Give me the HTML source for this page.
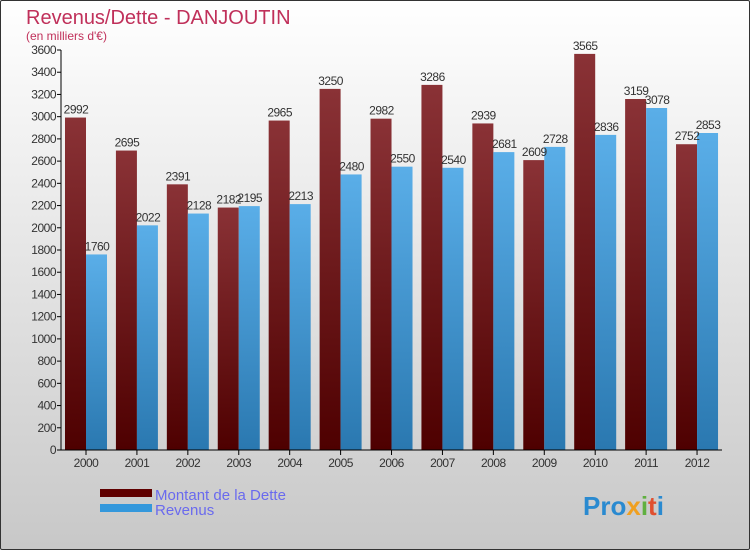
<!DOCTYPE html>
<html><head><meta charset="utf-8"><style>
body{margin:0;width:750px;height:550px;overflow:hidden;font-family:"Liberation Sans",sans-serif}
#c{position:absolute;left:0;top:0;width:748px;height:548px;border:1px solid #333;border-radius:2px;background:linear-gradient(#fff,#c8c8c8)}
</style></head><body>
<div id="c"></div>
<svg id="s" width="750" height="550" style="position:absolute;left:0;top:0">
<defs>
<linearGradient id="gd" x1="0" y1="0" x2="0" y2="1"><stop offset="0" stop-color="#8a3236"/><stop offset="1" stop-color="#4e0000"/></linearGradient>
<linearGradient id="gr" x1="0" y1="0" x2="0" y2="1"><stop offset="0" stop-color="#5aaee8"/><stop offset="1" stop-color="#2a78b0"/></linearGradient>
</defs>
<text x="26" y="24" font-size="20" fill="#c0305a">Revenus/Dette - DANJOUTIN</text>
<text x="26" y="40" font-size="12" fill="#c0305a">(en milliers d'€)</text>
<g id="g"></g>
<rect x="100" y="489" width="52" height="8" fill="#600000"/>
<rect x="100" y="504" width="52" height="8" fill="#3498dc"/>
<text x="155" y="500" font-size="15" fill="#6a6aee">Montant de la Dette</text>
<text x="155" y="515" font-size="15" fill="#6a6aee">Revenus</text>
<text x="583" y="515" font-size="26" font-weight="bold" fill="#2a8ad0">Pro<tspan fill="#f0a020">x</tspan><tspan fill="#60b040">i</tspan><tspan fill="#e05030">t</tspan><tspan fill="#2a8ad0">i</tspan></text>
</svg>
<script>
const years=["2000","2001","2002","2003","2004","2005","2006","2007","2008","2009","2010","2011","2012"];
const dette=[2992,2695,2391,2182,2965,3250,2982,3286,2939,2609,3565,3159,2752];
const revenus=[1760,2022,2128,2195,2213,2480,2550,2540,2681,2728,2836,3078,2853];
const ticks=[0,200,400,600,800,1000,1200,1400,1600,1800,2000,2200,2400,2600,2800,3000,3200,3400,3600];
const NS="http://www.w3.org/2000/svg",g=document.getElementById('g');
const y=v=>450-v*400/3600, xc=i=>86+i*50.92;
function mk(t,a,txt){const e=document.createElementNS(NS,t);for(const k in a)e.setAttribute(k,a[k]);if(txt!=null)e.textContent=txt;g.appendChild(e);return e;}
ticks.forEach(t=>{
 const l=mk('line',{x1:57,x2:61,y1:y(t),y2:y(t),stroke:'#000'});
 
 
 const tx=mk('text',{x:56,y:y(t)+4,'font-size':12,'text-anchor':'end',fill:'#333','letter-spacing':'-0.5'},t);
 
 
});
years.forEach((yr,i)=>{
 const c=xc(i);
 const b1=mk('rect',{x:c-21,y:y(dette[i]),width:21,height:450-y(dette[i]),fill:'url(#gd)'});
 
 
 const b2=mk('rect',{x:c,y:y(revenus[i]),width:21,height:450-y(revenus[i]),fill:'url(#gr)'});
 
 
 const t1=mk('text',{x:c-10,y:y(dette[i])-4,'font-size':12,'text-anchor':'middle',fill:'#333','letter-spacing':'-0.5'},dette[i]);
 
 
 const t2=mk('text',{x:c+11,y:y(revenus[i])-4,'font-size':12,'text-anchor':'middle',fill:'#333','letter-spacing':'-0.5'},revenus[i]);
 
 
 const tk=mk('line',{x1:c,x2:c,y1:450,y2:455,stroke:'#000'});
 
 
 const xl=mk('text',{x:c,y:467,'font-size':12,'text-anchor':'middle',fill:'#333','letter-spacing':'-0.5'},yr);
 
 
});
const ya=mk('line',{x1:61,x2:61,y1:50,y2:450,stroke:'#000'});


const xa=mk('line',{x1:61,x2:722,y1:450,y2:450,stroke:'#000'});


</script>
</body></html>
